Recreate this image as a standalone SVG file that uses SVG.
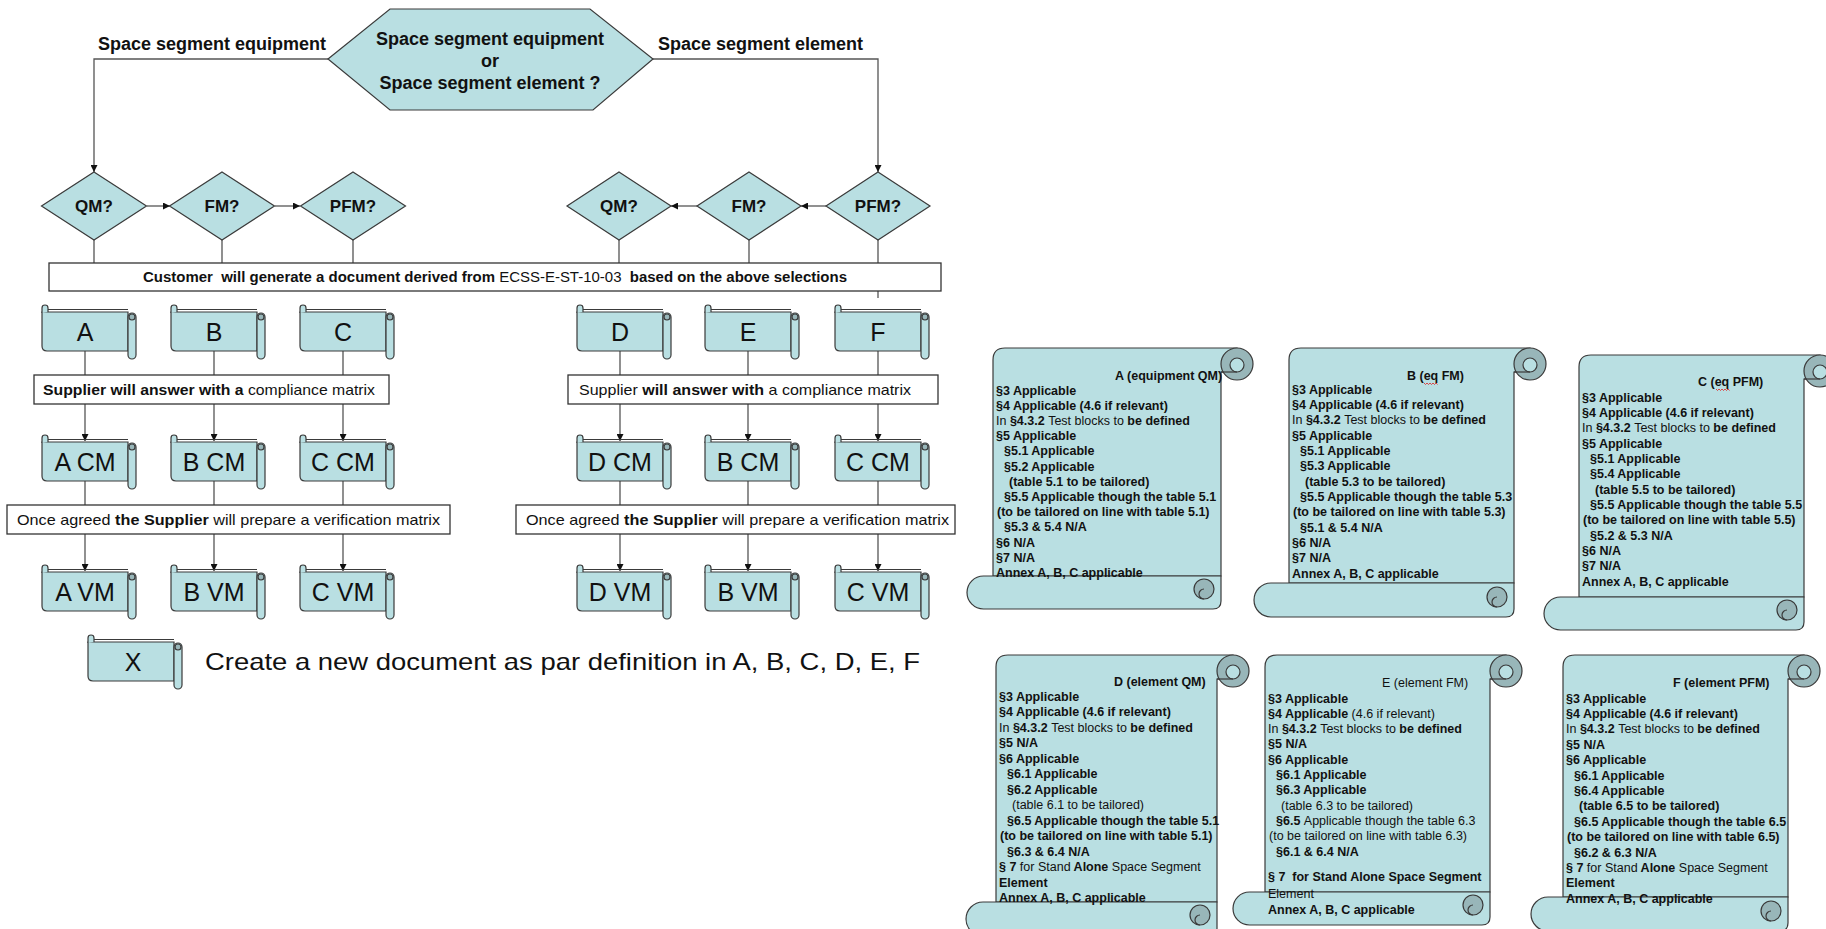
<svg xmlns="http://www.w3.org/2000/svg" xmlns:xlink="http://www.w3.org/1999/xlink" width="1826" height="929" viewBox="0 0 1826 929">
<style>
.pf{fill:#b9dfe2;stroke:#3a3a3a;stroke-width:1.2}
.dk{fill:#98b6b9;stroke:#3a3a3a;stroke-width:1.2}
.ln{fill:none;stroke:#3a3a3a;stroke-width:1.2}
.box{fill:#fff;stroke:#333;stroke-width:1.3}
.c{fill:none;stroke:#555;stroke-width:1.3}
.a{marker-end:url(#arr)}
.t{font-family:"Liberation Sans",Arial,sans-serif;fill:#111}
.b{font-weight:bold}
.n{font-weight:normal}
.q{font-size:18px;font-weight:bold;text-anchor:middle}
.d{font-size:17px;font-weight:bold;text-anchor:middle}
.s{font-size:25px;text-anchor:middle}
.m{font-size:15px}
.doc{font-family:"Liberation Sans",Arial,sans-serif;font-size:12.5px;font-weight:bold;fill:#111}
.sp{fill:none;stroke:#e02020;stroke-width:0.8}
</style>
<defs>
<marker id="arr" viewBox="0 0 10 10" refX="10" refY="5" markerWidth="7" markerHeight="7" markerUnits="userSpaceOnUse" orient="auto"><path d="M0,0 L10,5 L0,10 Z" fill="#111"/></marker>
<g id="ss">
<path class="pf" d="M0,0 H86 V39 H5 Q0,39 0,34 Z"/>
<path class="pf" d="M0,1 V-4 Q0,-7 3,-7 Q6,-7 6,-4 V0"/>
<line class="ln" x1="6" y1="-2.5" x2="86" y2="-2.5"/>
<rect class="pf" x="86" y="1" width="8" height="46" rx="4"/>
<ellipse class="dk" cx="90" cy="5" rx="3" ry="3"/>
</g>
</defs>
<rect width="1826" height="929" fill="#fff"/>

<g id="connectors">
<path class="c a" d="M328,59 H94 V172"/>
<path class="c a" d="M653,59 H878 V172"/>
<path class="c a" d="M147,206 H170"/>
<path class="c a" d="M275,206 H300"/>
<path class="c a" d="M826,206 H801"/>
<path class="c a" d="M697,206 H671"/>
<path class="c" d="M94,240 V263 M222,240 V263 M353,240 V263 M619,240 V263 M749,240 V263 M878,240 V263"/>
<path class="c" d="M878,291 V298"/>
<path class="c" d="M85,351 V375 M214,351 V375 M343,351 V375 M620,351 V375 M748,351 V375 M878,351 V375"/>
<path class="c a" d="M85,404 V441"/><path class="c a" d="M214,404 V441"/><path class="c a" d="M343,404 V441"/>
<path class="c a" d="M620,404 V441"/><path class="c a" d="M748,404 V441"/><path class="c a" d="M878,404 V441"/>
<path class="c" d="M85,481 V505 M214,481 V505 M343,481 V505 M620,481 V505 M748,481 V505 M878,481 V505"/>
<path class="c a" d="M85,534 V571"/><path class="c a" d="M214,534 V571"/><path class="c a" d="M343,534 V571"/>
<path class="c a" d="M620,534 V571"/><path class="c a" d="M748,534 V571"/><path class="c a" d="M878,534 V571"/>
</g>

<g id="labels">
<text class="t b" x="98" y="49.5" font-size="18">Space segment equipment</text>
<text class="t b" x="658" y="49.5" font-size="18">Space segment element</text>
</g>

<g id="decision">
<polygon class="pf" points="328,59 390,9 590,9 653,59 593,110 390,110"/>
<text class="t q" x="490" y="44.5">Space segment equipment</text>
<text class="t q" x="490" y="66.5">or</text>
<text class="t q" x="490" y="88.5">Space segment element ?</text>
</g>

<g id="qm-left"><polygon class="pf" points="94,172 146.5,206 94,240 41.5,206"/><text class="t d" x="94" y="212">QM?</text></g>
<g id="fm-left"><polygon class="pf" points="222,172 274.5,206 222,240 169.5,206"/><text class="t d" x="222" y="212">FM?</text></g>
<g id="pfm-left"><polygon class="pf" points="353,172 405.5,206 353,240 300.5,206"/><text class="t d" x="353" y="212">PFM?</text></g>
<g id="qm-right"><polygon class="pf" points="619,172 671,206 619,240 567,206"/><text class="t d" x="619" y="212">QM?</text></g>
<g id="fm-right"><polygon class="pf" points="749,172 801,206 749,240 697,206"/><text class="t d" x="749" y="212">FM?</text></g>
<g id="pfm-right"><polygon class="pf" points="878,172 930,206 878,240 826,206"/><text class="t d" x="878" y="212">PFM?</text></g>

<g id="customer">
<rect class="box" x="49" y="263" width="892" height="28"/>
<text class="t b" x="143" y="282" font-size="14" textLength="704" lengthAdjust="spacingAndGlyphs" xml:space="preserve">Customer  will generate a document derived from <tspan class="n">ECSS-E-ST-10-03</tspan>  based on the above selections</text>
</g>

<g id="doc-A"><use xlink:href="#ss" x="42" y="312"/><text class="t s" x="85" y="340.5">A</text></g>
<g id="doc-B"><use xlink:href="#ss" x="171" y="312"/><text class="t s" x="214" y="340.5">B</text></g>
<g id="doc-C"><use xlink:href="#ss" x="300" y="312"/><text class="t s" x="343" y="340.5">C</text></g>
<g id="doc-D"><use xlink:href="#ss" x="577" y="312"/><text class="t s" x="620" y="340.5">D</text></g>
<g id="doc-E"><use xlink:href="#ss" x="705" y="312"/><text class="t s" x="748" y="340.5">E</text></g>
<g id="doc-F"><use xlink:href="#ss" x="835" y="312"/><text class="t s" x="878" y="340.5">F</text></g>

<g id="supplier-left"><rect class="box" x="34" y="375" width="355" height="29"/>
<text class="t m" x="43" y="395" textLength="332" lengthAdjust="spacingAndGlyphs"><tspan class="b">Supplier will answer with a</tspan> compliance matrix</text></g>
<g id="supplier-right"><rect class="box" x="568" y="375" width="370" height="29"/>
<text class="t m" x="579" y="395" textLength="332" lengthAdjust="spacingAndGlyphs">Supplier <tspan class="b">will answer with</tspan> a compliance matrix</text></g>

<g id="cm-A"><use xlink:href="#ss" x="42" y="442"/><text class="t s" x="85" y="470.5">A CM</text></g>
<g id="cm-B"><use xlink:href="#ss" x="171" y="442"/><text class="t s" x="214" y="470.5">B CM</text></g>
<g id="cm-C"><use xlink:href="#ss" x="300" y="442"/><text class="t s" x="343" y="470.5">C CM</text></g>
<g id="cm-D"><use xlink:href="#ss" x="577" y="442"/><text class="t s" x="620" y="470.5">D CM</text></g>
<g id="cm-E"><use xlink:href="#ss" x="705" y="442"/><text class="t s" x="748" y="470.5">B CM</text></g>
<g id="cm-F"><use xlink:href="#ss" x="835" y="442"/><text class="t s" x="878" y="470.5">C CM</text></g>

<g id="agreed-left"><rect class="box" x="7" y="505" width="443" height="29"/>
<text class="t m" x="17" y="525" textLength="423" lengthAdjust="spacingAndGlyphs">Once agreed <tspan class="b">the Supplier</tspan> will prepare a verification matrix</text></g>
<g id="agreed-right"><rect class="box" x="516" y="505" width="439" height="29"/>
<text class="t m" x="526" y="525" textLength="423" lengthAdjust="spacingAndGlyphs">Once agreed <tspan class="b">the Supplier</tspan> will prepare a verification matrix</text></g>

<g id="vm-A"><use xlink:href="#ss" x="42" y="572"/><text class="t s" x="85" y="600.5">A VM</text></g>
<g id="vm-B"><use xlink:href="#ss" x="171" y="572"/><text class="t s" x="214" y="600.5">B VM</text></g>
<g id="vm-C"><use xlink:href="#ss" x="300" y="572"/><text class="t s" x="343" y="600.5">C VM</text></g>
<g id="vm-D"><use xlink:href="#ss" x="577" y="572"/><text class="t s" x="620" y="600.5">D VM</text></g>
<g id="vm-E"><use xlink:href="#ss" x="705" y="572"/><text class="t s" x="748" y="600.5">B VM</text></g>
<g id="vm-F"><use xlink:href="#ss" x="835" y="572"/><text class="t s" x="878" y="600.5">C VM</text></g>

<g id="legend"><use xlink:href="#ss" x="88" y="642"/><text class="t s" x="133" y="670.5">X</text>
<text class="t" x="205" y="670" font-size="24" textLength="715" lengthAdjust="spacingAndGlyphs">Create a new document as par definition in A, B, C, D, E, F</text></g>

<!-- big scroll A: L=993 T=348 R=1221 B=609 BL=967 BT=576 -->
<g id="scroll-A">
<path class="pf" d="M993,576 V360 Q993,348 1005,348 H1237 V372 H1221 V576 Z"/>
<circle class="dk" cx="1237" cy="364" r="16"/>
<circle class="pf" cx="1237" cy="365" r="7"/>
<path class="ln" d="M1221,372 H1237"/>
<path class="pf" d="M1221,576 H983.5 A16.5,16.5 0 0 0 983.5,609 H1213 Q1221,609 1221,601 Z"/>
<circle class="dk" cx="1204" cy="589" r="10"/>
<path class="ln" d="M1204,599 A5,5 0 0 1 1204,589"/>
<text class="doc"><tspan x="1115" y="379.5">A (equipment QM)</tspan>
<tspan x="996" y="394.5">§3 Applicable</tspan>
<tspan x="996" y="409.7">§4 Applicable (4.6 if relevant)</tspan>
<tspan x="996" y="424.9"><tspan class="n">In </tspan>§4.3.2 <tspan class="n">Test blocks to</tspan> be defined</tspan>
<tspan x="996" y="440.1">§5 Applicable</tspan>
<tspan x="1004" y="455.3">§5.1 Applicable</tspan>
<tspan x="1004" y="470.5">§5.2 Applicable</tspan>
<tspan x="1009" y="485.7">(table 5.1 to be tailored)</tspan>
<tspan x="1004" y="500.9">§5.5 Applicable though the table 5.1</tspan>
<tspan x="997" y="516.1">(to be tailored on line with table 5.1)</tspan>
<tspan x="1004" y="531.3">§5.3 &amp; 5.4 N/A</tspan>
<tspan x="996" y="546.5">§6 N/A</tspan>
<tspan x="996" y="561.7">§7 N/A</tspan>
<tspan x="996" y="576.9">Annex A, B, C applicable</tspan></text>
</g>

<!-- big scroll B: L=1289 T=348 R=1514 B=617 BL=1254 BT=583 -->
<g id="scroll-B">
<path class="pf" d="M1289,583 V360 Q1289,348 1301,348 H1530 V372 H1514 V583 Z"/>
<circle class="dk" cx="1530" cy="364" r="16"/>
<circle class="pf" cx="1530" cy="365" r="7"/>
<path class="ln" d="M1514,372 H1530"/>
<path class="pf" d="M1514,583 H1271 A17,17 0 0 0 1271,617 H1506 Q1514,617 1514,609 Z"/>
<circle class="dk" cx="1497" cy="597" r="10"/>
<path class="ln" d="M1497,607 A5,5 0 0 1 1497,597"/>
<text class="doc"><tspan x="1407" y="379.5">B (eq FM)</tspan>
<tspan x="1292" y="393.5">§3 Applicable</tspan>
<tspan x="1292" y="408.8">§4 Applicable (4.6 if relevant)</tspan>
<tspan x="1292" y="424.2"><tspan class="n">In </tspan>§4.3.2 <tspan class="n">Test blocks to</tspan> be defined</tspan>
<tspan x="1292" y="439.5">§5 Applicable</tspan>
<tspan x="1300" y="454.9">§5.1 Applicable</tspan>
<tspan x="1300" y="470.2">§5.3 Applicable</tspan>
<tspan x="1305" y="485.6">(table 5.3 to be tailored)</tspan>
<tspan x="1300" y="500.9">§5.5 Applicable though the table 5.3</tspan>
<tspan x="1293" y="516.3">(to be tailored on line with table 5.3)</tspan>
<tspan x="1300" y="531.6">§5.1 &amp; 5.4 N/A</tspan>
<tspan x="1292" y="547">§6 N/A</tspan>
<tspan x="1292" y="562.3">§7 N/A</tspan>
<tspan x="1292" y="577.7">Annex A, B, C applicable</tspan></text>
<path class="sp" d="M1424,383 l1.5,1.5 l1.5,-1.5 l1.5,1.5 l1.5,-1.5 l1.5,1.5 l1.5,-1.5 l1.5,1.5 l1.5,-1.5 l1.5,1.5"/>
</g>

<!-- big scroll C: L=1579 T=355 R=1804 B=630 BL=1544 BT=597 -->
<g id="scroll-C">
<path class="pf" d="M1579,597 V367 Q1579,355 1591,355 H1820 V379 H1804 V597 Z"/>
<circle class="dk" cx="1820" cy="371" r="16"/>
<circle class="pf" cx="1820" cy="372" r="7"/>
<path class="ln" d="M1804,379 H1820"/>
<path class="pf" d="M1804,597 H1560.5 A16.5,16.5 0 0 0 1560.5,630 H1796 Q1804,630 1804,622 Z"/>
<circle class="dk" cx="1787" cy="610" r="10"/>
<path class="ln" d="M1787,620 A5,5 0 0 1 1787,610"/>
<text class="doc"><tspan x="1698" y="385.5">C (eq PFM)</tspan>
<tspan x="1582" y="401.5">§3 Applicable</tspan>
<tspan x="1582" y="416.8">§4 Applicable (4.6 if relevant)</tspan>
<tspan x="1582" y="432.2"><tspan class="n">In </tspan>§4.3.2 <tspan class="n">Test blocks to</tspan> be defined</tspan>
<tspan x="1582" y="447.5">§5 Applicable</tspan>
<tspan x="1590" y="462.8">§5.1 Applicable</tspan>
<tspan x="1590" y="478.2">§5.4 Applicable</tspan>
<tspan x="1595" y="493.5">(table 5.5 to be tailored)</tspan>
<tspan x="1590" y="508.8">§5.5 Applicable though the table 5.5</tspan>
<tspan x="1583" y="524.1">(to be tailored on line with table 5.5)</tspan>
<tspan x="1590" y="539.5">§5.2 &amp; 5.3 N/A</tspan>
<tspan x="1582" y="554.8">§6 N/A</tspan>
<tspan x="1582" y="570.1">§7 N/A</tspan>
<tspan x="1582" y="585.5">Annex A, B, C applicable</tspan></text>
<path class="sp" d="M1716,389 l1.5,1.5 l1.5,-1.5 l1.5,1.5 l1.5,-1.5 l1.5,1.5 l1.5,-1.5 l1.5,1.5 l1.5,-1.5 l1.5,1.5"/>
</g>

<!-- big scroll D: L=996 T=655 R=1217 BT=902 B=936 -->
<g id="scroll-D">
<path class="pf" d="M996,902 V667 Q996,655 1008,655 H1233 V679 H1217 V902 Z"/>
<circle class="dk" cx="1233" cy="671" r="16"/>
<circle class="pf" cx="1233" cy="672" r="7"/>
<path class="ln" d="M1217,679 H1233"/>
<path class="pf" d="M1217,902 H983 A17,17 0 0 0 983,936 H1209 Q1217,936 1217,928 Z"/>
<circle class="dk" cx="1200" cy="915" r="10"/>
<path class="ln" d="M1200,925 A5,5 0 0 1 1200,915"/>
<text class="doc"><tspan x="1114" y="685.5">D (element QM)</tspan>
<tspan x="999" y="700.5">§3 Applicable</tspan>
<tspan x="999" y="716">§4 Applicable (4.6 if relevant)</tspan>
<tspan x="999" y="731.5"><tspan class="n">In </tspan>§4.3.2 <tspan class="n">Test blocks to</tspan> be defined</tspan>
<tspan x="999" y="747">§5 N/A</tspan>
<tspan x="999" y="762.5">§6 Applicable</tspan>
<tspan x="1007" y="778">§6.1 Applicable</tspan>
<tspan x="1007" y="793.5">§6.2 Applicable</tspan>
<tspan x="1012" y="809" class="n">(table 6.1 to be tailored)</tspan>
<tspan x="1007" y="824.5">§6.5 Applicable though the table 5.1</tspan>
<tspan x="1000" y="840">(to be tailored on line with table 5.1)</tspan>
<tspan x="1007" y="855.5">§6.3 &amp; 6.4 N/A</tspan>
<tspan x="999" y="871">§ 7 <tspan class="n">for Stand</tspan> Alone <tspan class="n">Space Segment</tspan></tspan>
<tspan x="999" y="886.5">Element</tspan>
<tspan x="999" y="902">Annex A, B, C applicable</tspan></text>
</g>

<!-- big scroll E: L=1265 T=655 R=1490 BT=892 B=925 -->
<g id="scroll-E">
<path class="pf" d="M1265,892 V667 Q1265,655 1277,655 H1506 V679 H1490 V892 Z"/>
<circle class="dk" cx="1506" cy="671" r="16"/>
<circle class="pf" cx="1506" cy="672" r="7"/>
<path class="ln" d="M1490,679 H1506"/>
<path class="pf" d="M1490,892 H1249.5 A16.5,16.5 0 0 0 1249.5,925 H1482 Q1490,925 1490,917 Z"/>
<circle class="dk" cx="1473" cy="905" r="10"/>
<path class="ln" d="M1473,915 A5,5 0 0 1 1473,905"/>
<text class="doc"><tspan x="1382" y="686.5" class="n">E (element FM)</tspan>
<tspan x="1268" y="702.5">§3 Applicable</tspan>
<tspan x="1268" y="717.8">§4 Applicable <tspan class="n">(4.6 if relevant)</tspan></tspan>
<tspan x="1268" y="733.1"><tspan class="n">In </tspan>§4.3.2 <tspan class="n">Test blocks to</tspan> be defined</tspan>
<tspan x="1268" y="748.4">§5 N/A</tspan>
<tspan x="1268" y="763.7">§6 Applicable</tspan>
<tspan x="1276" y="779">§6.1 Applicable</tspan>
<tspan x="1276" y="794.3">§6.3 Applicable</tspan>
<tspan x="1281" y="809.6" class="n">(table 6.3 to be tailored)</tspan>
<tspan x="1276" y="824.9">§6.5 <tspan class="n">Applicable though the table 6.3</tspan></tspan>
<tspan x="1269" y="840.2" class="n">(to be tailored on line with table 6.3)</tspan>
<tspan x="1276" y="855.5">§6.1 &amp; 6.4 N/A</tspan>
<tspan x="1268" y="880.5" xml:space="preserve">§ 7  for Stand Alone Space Segment</tspan>
<tspan x="1268" y="897.5" class="n">Element</tspan>
<tspan x="1268" y="913.5">Annex A, B, C applicable</tspan></text>
</g>

<!-- big scroll F: L=1563 T=655 R=1788 BT=897 B=936 -->
<g id="scroll-F">
<path class="pf" d="M1563,897 V667 Q1563,655 1575,655 H1804 V679 H1788 V897 Z"/>
<circle class="dk" cx="1804" cy="671" r="16"/>
<circle class="pf" cx="1804" cy="672" r="7"/>
<path class="ln" d="M1788,679 H1804"/>
<path class="pf" d="M1788,897 H1548 A17,17 0 0 0 1548,931 H1780 Q1788,931 1788,923 Z"/>
<circle class="dk" cx="1771" cy="911" r="10"/>
<path class="ln" d="M1771,921 A5,5 0 0 1 1771,911"/>
<text class="doc"><tspan x="1673" y="686.5">F (element PFM)</tspan>
<tspan x="1566" y="702.5">§3 Applicable</tspan>
<tspan x="1566" y="717.9">§4 Applicable (4.6 if relevant)</tspan>
<tspan x="1566" y="733.3"><tspan class="n">In </tspan>§4.3.2 <tspan class="n">Test blocks to</tspan> be defined</tspan>
<tspan x="1566" y="748.7">§5 N/A</tspan>
<tspan x="1566" y="764.1">§6 Applicable</tspan>
<tspan x="1574" y="779.5">§6.1 Applicable</tspan>
<tspan x="1574" y="794.9">§6.4 Applicable</tspan>
<tspan x="1579" y="810.3">(table 6.5 to be tailored)</tspan>
<tspan x="1574" y="825.7">§6.5 Applicable though the table 6.5</tspan>
<tspan x="1567" y="841.1">(to be tailored on line with table 6.5)</tspan>
<tspan x="1574" y="856.5">§6.2 &amp; 6.3 N/A</tspan>
<tspan x="1566" y="871.9">§ 7 <tspan class="n">for Stand</tspan> Alone <tspan class="n">Space Segment</tspan></tspan>
<tspan x="1566" y="887.3">Element</tspan>
<tspan x="1566" y="902.7">Annex A, B, C applicable</tspan></text>
</g>
</svg>
